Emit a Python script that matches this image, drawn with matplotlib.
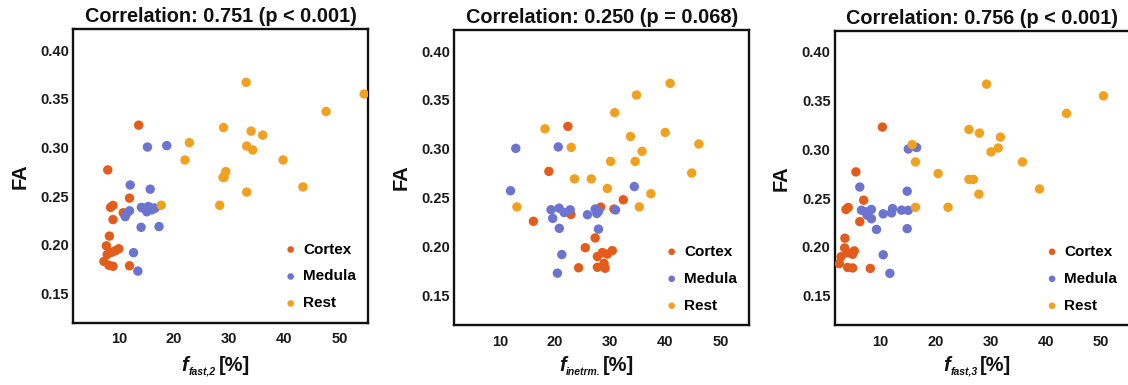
import matplotlib
matplotlib.use("Agg")
import matplotlib.pyplot as plt
from matplotlib.transforms import IdentityTransform

plt.rcParams['font.family'] = ['Liberation Sans', 'DejaVu Sans']

# ---------------- data ----------------
groups = ["Cortex", "Medula", "Rest"]
colors = ["#E35C1B", "#6B74D0", "#F2A11F"]

fa_cortex = [0.323, 0.277, 0.248, 0.2405, 0.2385, 0.233, 0.226, 0.209, 0.199,
             0.196, 0.194, 0.1925, 0.190, 0.183, 0.179, 0.1785, 0.178]
ffast2_cortex = [13.6, 8.0, 11.95, 8.95, 8.5, 10.8, 8.95, 8.3, 7.75,
                 10.0, 9.4, 8.8, 7.9, 7.3, 8.2, 11.95, 8.95]
finter_cortex = [22.35, 18.9, 32.4, 28.3, 30.7, 22.9, 16.1, 27.3, 25.5,
                 30.4, 28.6, 29.5, 27.7, 28.9, 27.7, 24.3, 29.1]
ffast3_cortex = [10.4, 5.6, 7.0, 4.2, 3.8, 7.6, 6.3, 3.6, 3.55,
                 5.3, 4.1, 5.0, 2.9, 2.6, 4.1, 5.0, 8.2]

fa_medula = [0.302, 0.3005, 0.2615, 0.2572, 0.2394, 0.2385, 0.2378, 0.2377,
             0.2376, 0.236, 0.235, 0.234, 0.2327, 0.229, 0.2188, 0.218,
             0.192, 0.173]
ffast2_medula = [18.7, 15.2, 12.07, 15.7, 15.37, 14.1, 16.27, 16.6,
                 14.47, 15.98, 11.95, 15.08, 11.48, 11.17, 17.3, 14.05,
                 12.67, 13.46]
finter_medula = [20.6, 12.9, 34.4, 11.95, 20.76, 27.3, 19.3, 22.77,
                 30.99, 27.9, 21.67, 27.6, 25.9, 19.6, 20.8, 27.9,
                 21.25, 20.45]
ffast3_medula = [16.6, 15.1, 6.3, 14.9, 12.24, 8.4, 13.88, 6.6,
                 15.09, 7.4, 12.06, 10.55, 7.7, 8.4, 14.9, 9.33,
                 10.55, 11.76]

fa_rest = [0.367, 0.355, 0.337, 0.3205, 0.3168, 0.3127, 0.305, 0.3015, 0.2975,
           0.2872, 0.2872, 0.2753, 0.2693, 0.2693, 0.2595, 0.2542, 0.2407, 0.2407]
ffast2_rest = [33.1, 54.5, 47.6, 29.0, 34.0, 36.1, 22.8, 33.2, 34.3,
               22.0, 39.8, 29.4, 28.9, 29.1, 43.4, 33.2, 17.7, 28.3]
finter_rest = [40.9, 34.8, 30.85, 18.2, 40.0, 33.7, 46.1, 22.95, 35.8,
               30.1, 34.55, 44.8, 23.55, 26.6, 29.5, 37.4, 13.1, 35.3]
ffast3_rest = [29.3, 50.5, 43.8, 26.1, 28.0, 31.8, 15.8, 31.4, 30.1,
               16.4, 35.8, 20.5, 26.1, 26.9, 38.9, 27.9, 16.4, 22.3]

titles = ["Correlation: 0.751 (p < 0.001)",
          "Correlation: 0.250 (p = 0.068)",
          "Correlation: 0.756 (p < 0.001)"]
xlabel_main = "f"
xlabel_subs = ["fast,2", "inetrm.", "fast,3"]
xlabel_unit = "[%]"
ylabel = "FA"
xticks = [10, 20, 30, 40, 50]
yticks = [0.15, 0.20, 0.25, 0.30, 0.35, 0.40]

panels = [
    (ffast2_cortex, ffast2_medula, ffast2_rest),
    (finter_cortex, finter_medula, finter_rest),
    (ffast3_cortex, ffast3_medula, ffast3_rest),
]
fa_groups = (fa_cortex, fa_medula, fa_rest)

# ---------------- figure ----------------
W, H = 1128, 385
fig = plt.figure(figsize=(W / 100, H / 100), dpi=100)
renderer = fig.canvas.get_renderer()

boxes = [(73.3, 29.3, 368.0, 322.7),
         (454.3, 30.0, 749.0, 325.0),
         (834.7, 31.0, 1129.4, 325.0)]


def composite_xlabel(cx, base_y, sub):
    parts = [(xlabel_main, dict(fontsize=14.5, fontweight='bold', style='italic'), 0, 0.5),
             (sub, dict(fontsize=7.5, fontweight='bold', style='italic'), -4, 2.5),
             (xlabel_unit, dict(fontsize=14.5, fontweight='bold'), 0, 0)]
    placed = []
    x = 0.0
    for s, kw, dy, gap in parts:
        t = fig.text(0, 0, s, transform=IdentityTransform(), ha='left',
                     va='baseline', color='#111111', **kw)
        w = t.get_window_extent(renderer).width
        placed.append((t, x, dy))
        x += w + gap
    total = x
    for t, xo, dy in placed:
        t.set_position((cx - total / 2 + xo, H - base_y + dy))


for i, (l, t, r, b) in enumerate(boxes):
    ax = fig.add_axes([l / W, 1 - b / H, (r - l) / W, (b - t) / H])
    for xs, ys, name, c in zip(panels[i], fa_groups, groups, colors):
        ax.scatter(xs, ys, s=46, color=c, edgecolors='none', label=name, zorder=3)
    ax.set_xlim(1.75, 55.2)
    ax.set_ylim(0.12, 0.4215)
    ax.set_xticks(xticks)
    ax.set_yticks(yticks)
    ax.set_xticklabels([str(v) for v in xticks])
    ax.set_yticklabels([f"{v:.2f}" for v in yticks])
    ax.tick_params(length=0, labelsize=10.5)
    ax.tick_params(axis='x', pad=7)
    ax.tick_params(axis='y', pad=3)
    for lab in ax.get_xticklabels() + ax.get_yticklabels():
        lab.set_fontweight('bold')
        lab.set_color('#1a1a1a')
    for sp in ax.spines.values():
        sp.set_linewidth(1.7)
        sp.set_color('#111111')
    ax.set_title(titles[i], fontsize=14.3, fontweight='bold', pad=5, color='#111111')
    ax.set_ylabel(ylabel, fontsize=14.5, fontweight='bold', labelpad=8, color='#111111')
    ax.legend(loc='lower right', frameon=False, markerscale=0.7,
              prop={'weight': 'bold', 'size': 11}, handletextpad=0.3,
              labelspacing=0.85, borderaxespad=0.4, handlelength=1.0)
    composite_xlabel((l + r) / 2 - 5, 371, xlabel_subs[i])

fig.savefig("out.png", dpi=100)
